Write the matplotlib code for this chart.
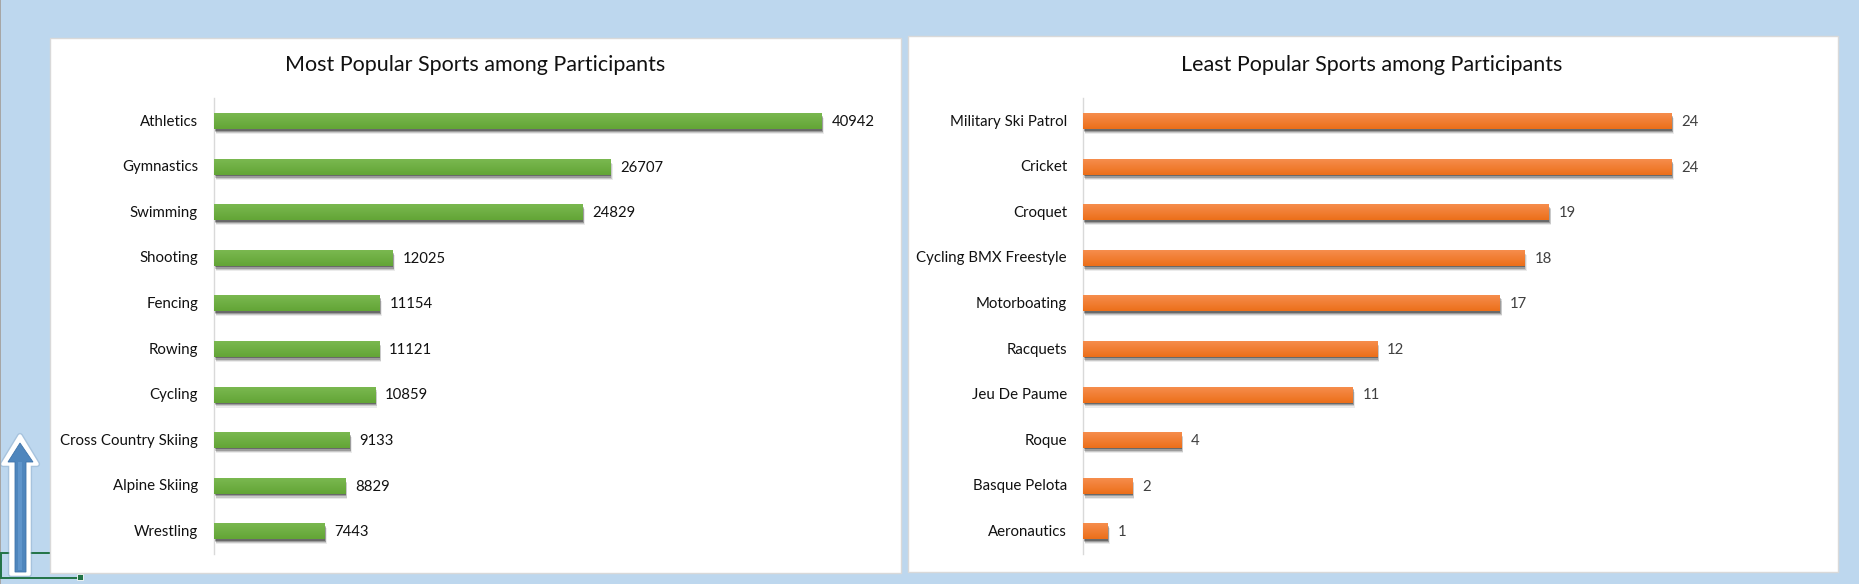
import numpy as np
import matplotlib
matplotlib.use("Agg")
import matplotlib.pyplot as plt
from matplotlib.colors import LinearSegmentedColormap
from matplotlib.patches import Polygon, Rectangle
from matplotlib.patheffects import withSimplePatchShadow
from matplotlib.transforms import ScaledTranslation

W, H = 1859, 584

most_sports = ["Athletics", "Gymnastics", "Swimming", "Shooting", "Fencing",
               "Rowing", "Cycling", "Cross Country Skiing", "Alpine Skiing", "Wrestling"]
most_counts = [40942, 26707, 24829, 12025, 11154, 11121, 10859, 9133, 8829, 7443]

least_sports = ["Military Ski Patrol", "Cricket", "Croquet", "Cycling BMX Freestyle", "Motorboating",
                "Racquets", "Jeu De Paume", "Roque", "Basque Pelota", "Aeronautics"]
least_counts = [24, 24, 19, 18, 17, 12, 11, 4, 2, 1]

plt.rcParams["font.family"] = ["Lato", "DejaVu Sans"]

fig = plt.figure(figsize=(W / 100, H / 100), dpi=100, facecolor="#bdd7ee")

# page furniture drawn in pixel coordinates
bg = fig.add_axes([0, 0, 1, 1])
bg.set_xlim(0, W)
bg.set_ylim(H, 0)
bg.axis("off")
bg.add_patch(Rectangle((0, 0), 1.5, H, fc="#a6a6a6", ec="none"))
bg.add_patch(Rectangle((1, 553), 79, 25, fc="none", ec="#217346", lw=1.4))
bg.add_patch(Rectangle((77, 574), 6, 6, fc="#217346", ec="white", lw=0.6))
bg.add_patch(Rectangle((50, 38), 851, 535, fc="white", ec="#d9d9d9", lw=1, zorder=2))
bg.add_patch(Rectangle((908, 36), 930, 536, fc="white", ec="#d9d9d9", lw=1, zorder=2))

# up arrow at the lower left
outline = [(20, 436), (37, 464), (29, 464), (29, 574), (11, 574), (11, 464), (3, 464)]
inner = [(20, 443), (33, 462), (26, 462), (26, 572), (15, 572), (15, 462), (8, 462)]
bg.add_patch(Polygon(outline, fc="none", ec="#7f9fc0", alpha=0.35, lw=4.5, joinstyle="round", zorder=3))
bg.add_patch(Polygon(outline, fc="white", ec="white", lw=2.5, joinstyle="round", zorder=3))
bg.add_patch(Polygon(inner, fc="#4f86bd", ec="#3f74aa", lw=0.6, zorder=4))
bg.add_patch(Rectangle((18, 462), 4, 108, fc="#5f95cb", ec="none", zorder=5))


def draw_panel(x0, x1, y0, y1, px_per_unit, sports, counts, colors, title, title_x, value_color):
    ax = fig.add_axes([x0 / W, 1 - y1 / H, (x1 - x0) / W, (y1 - y0) / H])
    ax.patch.set_alpha(0)
    cmap = LinearSegmentedColormap.from_list("bar", colors)
    grad = np.linspace(0, 1, 32).reshape(-1, 1)
    pad = 10 / px_per_unit
    for i, (name, val) in enumerate(zip(sports, counts)):
        bar = ax.barh(i, val, height=0.35, color=colors[1], linewidth=0, zorder=2)[0]
        bar.set_path_effects([
            withSimplePatchShadow(offset=(1.6, -3.6), shadow_rgbFace="#000000", alpha=0.08),
            withSimplePatchShadow(offset=(1.2, -2.8), shadow_rgbFace="#000000", alpha=0.14),
            withSimplePatchShadow(offset=(0.8, -2.0), shadow_rgbFace="#000000", alpha=0.22),
            withSimplePatchShadow(offset=(0.4, -1.0), shadow_rgbFace="#000000", alpha=0.32),
        ])
        ax.imshow(grad, cmap=cmap, aspect="auto", zorder=3,
                  extent=(0, val, i + 0.175, i - 0.175))
        ax.text(val + pad, i + 0.02, str(val), va="center", ha="left", fontsize=10.7, color=value_color)
    ax.set_xlim(0, (x1 - x0) / px_per_unit)
    ax.set_ylim(len(sports) - 0.5, -0.5)
    ax.set_yticks(range(len(sports)))
    ax.set_yticklabels(sports, fontsize=10.8, color="#111111")
    ax.tick_params(axis="y", length=0, pad=11.5)
    # labels sit about a pixel above the bar centre
    lift = ScaledTranslation(0, 1 / 100, fig.dpi_scale_trans)
    for lab in ax.get_yticklabels():
        lab.set_transform(lab.get_transform() + lift)
    ax.xaxis.set_visible(False)
    for side in ["top", "right", "bottom"]:
        ax.spines[side].set_visible(False)
    ax.spines["left"].set_color("#d9d9d9")
    ax.spines["left"].set_linewidth(1)
    fig.text(title_x / W, 1 - 65 / H, title, ha="center", va="center", fontsize=15.5, color="#111111")


draw_panel(214, 895, 98.5, 554, 607.5 / 40942, most_sports, most_counts, ["#7ab850", "#63a536"],
           "Most Popular Sports among Participants", 475, "#111111")
draw_panel(1083, 1830, 98.5, 554, 588.5 / 24, least_sports, least_counts, ["#f68d4c", "#ec6f1a"],
           "Least Popular Sports among Participants", 1372, "#404040")

fig.savefig("out.png", dpi=100, facecolor=fig.get_facecolor())
